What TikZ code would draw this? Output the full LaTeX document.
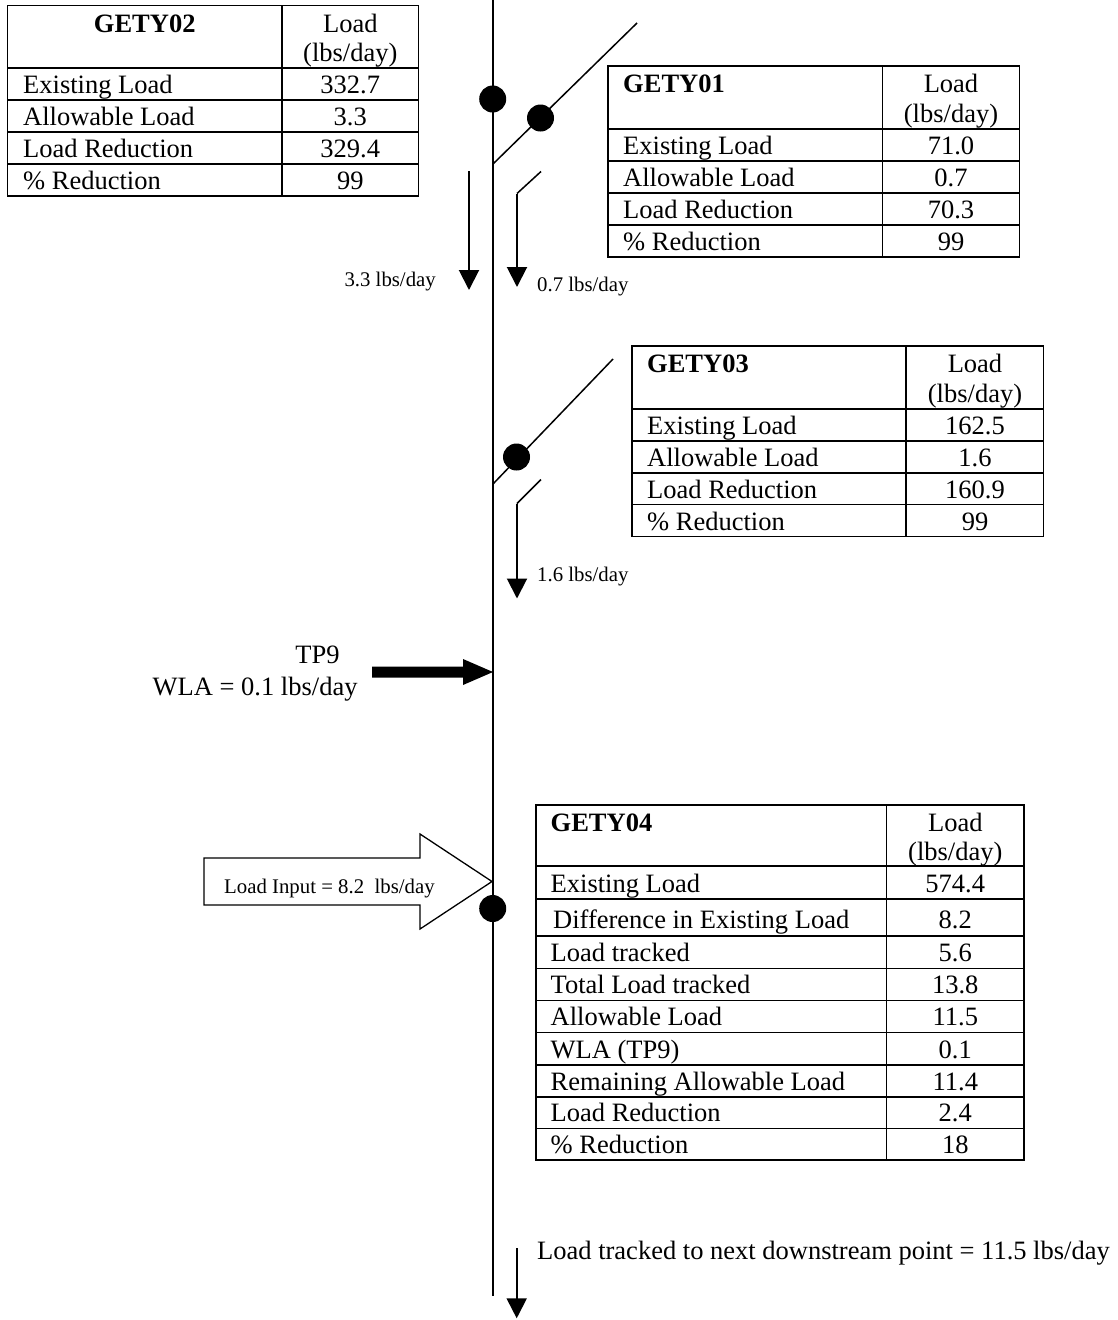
\documentclass[tikz,border=0pt]{standalone}
\usepackage{fontspec}
\setmainfont{Liberation Serif}
\usetikzlibrary{arrows.meta}
\newcommand{\bigf}{\fontsize{26.5pt}{30pt}\selectfont}
\newcommand{\smallf}{\fontsize{20.8pt}{24pt}\selectfont}
\begin{document}
\begin{tikzpicture}[x=1pt,y=-1pt,
  flow/.style={line width=2pt},
  diag/.style={line width=1.5pt},
  tipdown/.style={-{Triangle[width=20pt,length=20pt]}},
  dotnode/.style={circle,fill=black,inner sep=0pt,minimum size=27pt},
  gridline/.style={line width=1.8pt},
  lbl/.style={anchor=base west,inner sep=0pt,font=\bigf},
  val/.style={anchor=base,inner sep=0pt,font=\bigf},
  hd/.style={anchor=base west,inner sep=0pt,font=\bigf\bfseries},
  small/.style={inner sep=0pt,font=\smallf},
]
\useasboundingbox (0,0) rectangle (1118,1320);

% ---------------- main stream ----------------
\coordinate (mtop) at (493,0);
\coordinate (mbot) at (493,1296);
\draw[flow] (mtop) -- (mbot);

% tributary GETY01
\coordinate (j1) at (493,164);
\coordinate (e1) at (637,23);
\draw[diag] (j1) -- (e1);
\coordinate (s1a) at (541,171.5);
\coordinate (s1b) at (517,193.5);
\coordinate (a1) at (517,287);
\draw[diag] (s1a) -- (s1b);
\draw[flow,tipdown] (s1b) -- (a1);
\node[small,anchor=base west] (lab07) at (537,291) {0.7 lbs/day};

% GETY02 outflow
\coordinate (l1) at (469,171);
\coordinate (l2) at (469,290);
\draw[flow,tipdown] (l1) -- (l2);
\node[small,anchor=base east] (lab33) at (436,286) {3.3 lbs/day};

% tributary GETY03
\coordinate (j2) at (493,484);
\coordinate (e2) at (613,359);
\draw[diag] (j2) -- (e2);
\coordinate (s2a) at (541,479.5);
\coordinate (s2b) at (517,503.5);
\coordinate (a2) at (517,598.5);
\draw[diag] (s2a) -- (s2b);
\draw[flow,tipdown] (s2b) -- (a2);
\node[small,anchor=base west] (lab16) at (537,581) {1.6 lbs/day};

% dots
\node[dotnode] (d1) at (492.7,99) {};
\node[dotnode] (d2) at (540.5,118) {};
\node[dotnode] (d3) at (516.5,457) {};
\node[dotnode] (d4) at (492.7,908.5) {};

% TP9 arrow
\coordinate (tp9tip) at (493,672);
\fill (372,666.5) -- (463,666.5) -- (463,659) -- (tp9tip) -- (463,685) -- (463,677.5) -- (372,677.5) -- cycle;
\node[font=\bigf,anchor=base,inner sep=0pt] (tp9) at (317.5,663.5) {TP9};
\node[font=\bigf,anchor=base west,inner sep=0pt] (wla) at (152.5,695.5) {WLA = 0.1 lbs/day};

% Load input arrow
\coordinate (intip) at (492,881.5);
\draw[line width=1.3pt,line join=miter] (204,858) -- (420,858) -- (420,834) -- (intip) -- (420,929) -- (420,905) -- (204,905) -- cycle;
\node[small,anchor=base west] (loadin) at (224,893) {Load Input = 8.2\ \ lbs/day};

% final outflow
\coordinate (f1) at (516.7,1248.3);
\coordinate (f2) at (516.7,1318.3);
\draw[flow,tipdown] (f1) -- (f2);
\node[font=\bigf,anchor=base west,inner sep=0pt] (next) at (537,1259) {Load tracked to next downstream point = 11.5 lbs/day};

% ---------------- GETY02 ----------------
\draw[gridline] (7.5,5.5) rectangle (418.5,196);
\draw[gridline] (282,5.5) -- (282,196);
\foreach \y in {68,100,132,164} \draw[gridline] (7.5,\y) -- (418.5,\y);
\node[font=\bigf\bfseries,anchor=base,inner sep=0pt] (g02h) at (144.7,32) {GETY02};
\node[val] (g02l) at (350.3,32) {Load};
\node[val] (g02u) at (350.3,61.5) {(lbs/day)};
\foreach \yb/\lab/\v [count=\i] in {100/Existing Load/332.7, 132/Allowable Load/3.3, 164/Load Reduction/329.4, 196/\% Reduction/99} {
  \node[lbl] (g02a\i) at (23,\yb-6.5) {\lab};
  \node[val] (g02b\i) at (350.3,\yb-6.5) {\v};
}

% ---------------- GETY01 ----------------
\draw[gridline] (608,66) rectangle (1019.5,257);
\draw[gridline] (882.5,66) -- (882.5,257);
\foreach \y in {129,161,193,225} \draw[gridline] (608,\y) -- (1019.5,\y);
\node[hd] (g01h) at (623,92.5) {GETY01};
\node[val] (g01l) at (951,92.5) {Load};
\node[val] (g01u) at (951,122.5) {(lbs/day)};
\foreach \yb/\lab/\v [count=\i] in {161/Existing Load/71.0, 193/Allowable Load/0.7, 225/Load Reduction/70.3, 257/\% Reduction/99} {
  \node[lbl] (g01a\i) at (623,\yb-6.5) {\lab};
  \node[val] (g01b\i) at (951,\yb-6.5) {\v};
}

% ---------------- GETY03 ----------------
\draw[gridline] (632,346) rectangle (1043.5,536.5);
\draw[gridline] (906,346) -- (906,536.5);
\foreach \y in {409,441,473,504.5} \draw[gridline] (632,\y) -- (1043.5,\y);
\node[hd] (g03h) at (647,372.5) {GETY03};
\node[val] (g03l) at (975,372.5) {Load};
\node[val] (g03u) at (975,402.5) {(lbs/day)};
\foreach \yb/\lab/\v [count=\i] in {441/Existing Load/162.5, 473/Allowable Load/1.6, 504.5/Load Reduction/160.9, 536.5/\% Reduction/99} {
  \node[lbl] (g03a\i) at (647,\yb-6.5) {\lab};
  \node[val] (g03b\i) at (975,\yb-6.5) {\v};
}

% ---------------- GETY04 ----------------
\draw[gridline] (536,805) rectangle (1024,1160);
\draw[gridline] (886.5,805) -- (886.5,1160);
\foreach \y in {866,899,936,968.5,1000.5,1032.5,1065,1097,1128.5} \draw[gridline] (536,\y) -- (1024,\y);
\node[hd] (g04h) at (550.5,831.5) {GETY04};
\node[val] (g04l) at (955.3,831.5) {Load};
\node[val] (g04u) at (955.3,860.5) {(lbs/day)};
\node[lbl] (g04d) at (553,928.5) {Difference in Existing Load};
\node[val] (g04dv) at (955.3,928.5) {8.2};
\foreach \yb/\lab/\v [count=\i] in {899/Existing Load/574.4, 968.5/Load tracked/5.6, 1000.5/Total Load tracked/13.8, 1032.5/Allowable Load/11.5, 1065/WLA (TP9)/0.1, 1097/Remaining Allowable Load/11.4, 1128.5/Load Reduction/2.4, 1160/\% Reduction/18} {
  \node[lbl] (g04a\i) at (550.5,\yb-7) {\lab};
  \node[val] (g04b\i) at (955.3,\yb-7) {\v};
}
\end{tikzpicture}
\end{document}
